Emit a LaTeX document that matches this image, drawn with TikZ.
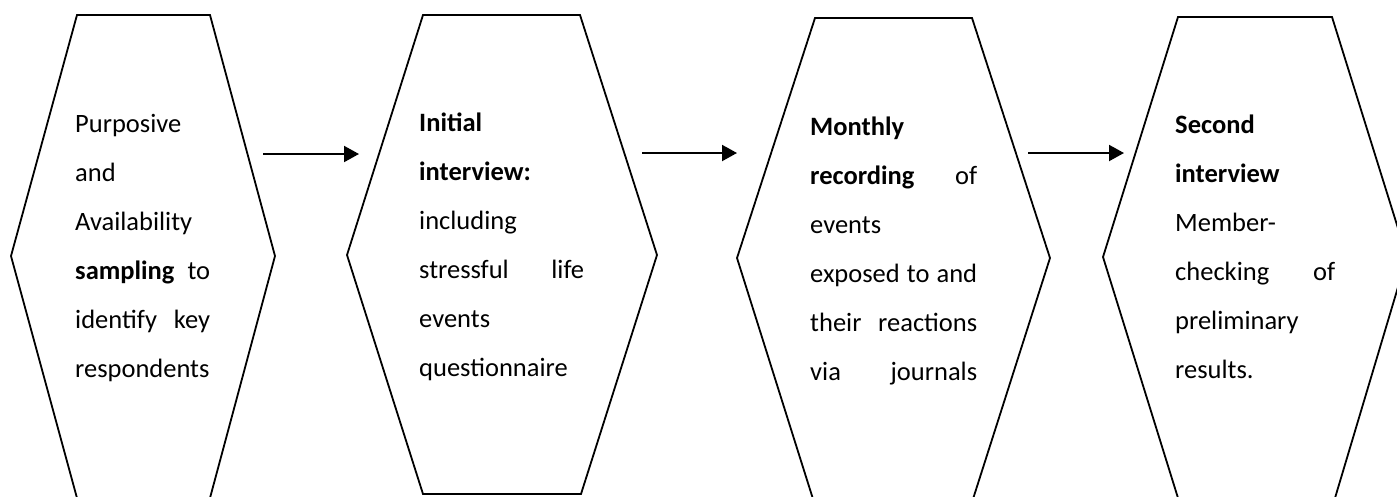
\documentclass[tikz,border=0pt]{standalone}
\usepackage{fontspec}
\setmainfont{Carlito}
\usetikzlibrary{arrows.meta}
\begin{document}
\begin{tikzpicture}[x=1pt,y=-1pt,
  hexline/.style={line width=1.8pt,line join=miter},
  steptext/.style={anchor=base west,inner sep=0pt,align=left,
    font=\fontsize{26.5}{49}\selectfont},
  flow/.style={line width=2pt,-{Triangle[length=15pt,width=16pt]}}]
\useasboundingbox (0,0) rectangle (1397,496);
\clip (0,0) rectangle (1397,496);
% hexagons: top-left, top-right, right, bottom-right, bottom-left, left
\draw[hexline] (77,15) -- (210,15) -- (275,256) -- (210,498) -- (77,498) -- (11,256) -- cycle;
\draw[hexline] (423,15) -- (580,15) -- (657,255) -- (581,494) -- (423,494) -- (347,255) -- cycle;
\draw[hexline] (815,18) -- (972,18) -- (1050,258) -- (973,499) -- (813,499) -- (737,258) -- cycle;
\draw[hexline] (1178,17) -- (1332,17) -- (1407,257) -- (1335,498) -- (1178,498) -- (1103,257) -- cycle;
% step texts
\node[steptext,text width=135pt] (s1) at (75,132)
  {Purposive\\ and\\ Availability\\ \textbf{sampling}\hfill to\\ identify\hfill key\\ respondents};
\node[steptext,text width=165pt] (s2) at (419,131)
  {\textbf{Initial}\\ \textbf{interview:}\\ including\\ stressful\hfill life\\ events\\ questionnaire};
\node[steptext,text width=167pt] (s3) at (810,135)
  {\textbf{Monthly}\\ \textbf{recording}\hfill of\\ events\\ exposed\hfill to\hfill and\\ their\hfill reactions\\ via\hfill journals};
\node[steptext,text width=160pt] (s4) at (1175,133)
  {\textbf{Second}\\ \textbf{interview}\\ Member-\\ checking\hfill of\\ preliminary\\ results.};
% arrows between steps
\coordinate (a1s) at (263,154);
\coordinate (a1e) at (359,154);
\coordinate (a2s) at (642,153);
\coordinate (a2e) at (737,153);
\coordinate (a3s) at (1028,153);
\coordinate (a3e) at (1124,153);
\draw[flow] (a1s) -- (a1e);
\draw[flow] (a2s) -- (a2e);
\draw[flow] (a3s) -- (a3e);
\end{tikzpicture}
\end{document}
